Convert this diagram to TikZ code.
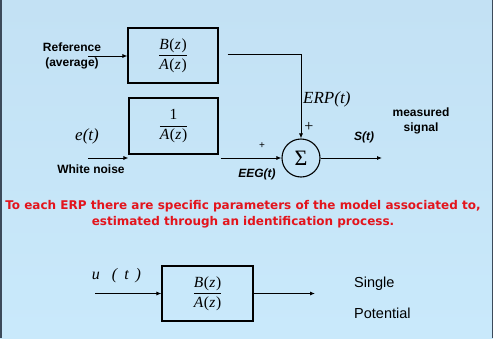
\documentclass[tikz,border=0pt]{standalone}
\usepackage{fontspec}
\setmainfont{Liberation Serif}
\setsansfont{Liberation Sans}
\newfontfamily\notefont{DejaVu Sans}
\usepackage{xcolor}
\usetikzlibrary{arrows.meta,calc,positioning}
\definecolor{slideBlue}{HTML}{C3E1F4}
\definecolor{slideBlueLow}{HTML}{C9E9FB}
\definecolor{slideEdge}{HTML}{3C4A5A}
\definecolor{noteRed}{HTML}{E3141C}
\newcommand{\transfn}[2]{$\displaystyle\frac{\mbox{#1}}{\mbox{#2}}$}
\newcommand{\ofz}[1]{\textit{#1}\kern0.6pt(\kern0.4pt\textit{z}\kern0.6pt)}

\begin{document}
\begin{tikzpicture}[x=1pt, y=-1pt,
    block/.style={draw, line width=1.1pt, minimum width=90pt, minimum height=55pt, inner sep=0pt, font=\fontsize{15.5}{17}\selectfont},
    summer/.style={draw, circle, line width=1.1pt, minimum size=38pt, inner sep=0pt, font=\fontsize{22}{22}\selectfont},
    sig/.style={-{Latex[length=5pt,width=4pt]}, line width=0.8pt},
    lbl/.style={font=\sffamily\bfseries\fontsize{12}{14.5}\selectfont, align=center, inner sep=0pt},
    lblit/.style={font=\sffamily\bfseries\itshape\fontsize{12}{14}\selectfont, inner sep=0pt},
    var/.style={font=\itshape\fontsize{17}{19}\selectfont, inner sep=0pt},
    sgn/.style={font=\sffamily\fontsize{10}{10}\selectfont, inner sep=0pt},
    plain/.style={font=\sffamily\fontsize{14.5}{16}\selectfont, anchor=base west, inner sep=0pt}]
    \shade[top color=slideBlue, bottom color=slideBlueLow] (0,0) rectangle (493,338);
    \fill[slideEdge] (0,0) rectangle (2,338);
    \fill[slideEdge] (491.5,0) rectangle (493,338);

    \node[block] (fbz) at (173,55.5) {\transfn{\ofz{B}}{\ofz{A}}};
    \node[block, minimum width=89pt, minimum height=56pt] (fnoise) at (173.5,126) {\transfn{1}{\ofz{A}}};
    \node[summer] (sum) at (301,158) {Σ};

    \node[lbl] (ref) at (72,56) {Reference\\(average)};
    \coordinate (refin) at (88,56);
    \draw[sig] (refin) -- (refin -| fbz.west);

    \node[var] (et) at (87,136) {e(t)};
    \coordinate (noisein) at (88,158);
    \draw[sig] (noisein) -- (noisein -| fnoise.west);
    \node[lbl] (noise) at (91,169) {White noise};

    \draw[sig] ([xshift=9pt,yshift=1.5pt]fbz.east) -| (sum.north);
    \node[var, anchor=west] (erp) at (303,99) {ERP(t)};
    \node[sgn, font=\fontsize{16}{16}\selectfont] (plustop) at (309,127) {+};

    \draw[sig] ([xshift=2pt]sum.west -| fnoise.east) -- (sum.west);
    \node[sgn] (plusleft) at (262,146) {+};
    \node[lblit] (eeg) at (257,174) {EEG(t)};

    \coordinate (sout) at (382,158);
    \draw[sig] (sum.east) -- (sout);
    \node[lblit] (st) at (364,137) {S(t)};
    \node[lbl] (meas) at (421,121) {measured\\signal};

    \node[font=\notefont\bfseries\fontsize{12}{16}\selectfont, text=noteRed, align=center, inner sep=0pt] (note) at (243,214)
      {To each ERP there are specific parameters of the model associated to,\\estimated through an identification process.};

    \node[block, minimum width=91pt] (fsingle) at (207.5,293.5) {\transfn{\ofz{B}}{\ofz{A}}};
    \node[var, font=\itshape\fontsize{16}{18}\selectfont] (ut) at (116.5,276) {u\hspace{12pt}(\hspace{7pt}t\hspace{7pt})};
    \coordinate (uin) at (95,293.5);
    \draw[sig] (uin) -- (fsingle.west);
    \coordinate (spout) at (315,293.5);
    \draw[sig] (fsingle.east) -- (spout);
    \node[plain] (single) at (354,287.5) {Single};
    \node[plain] (potential) at (354,318.5) {Potential};
\end{tikzpicture}
\end{document}
